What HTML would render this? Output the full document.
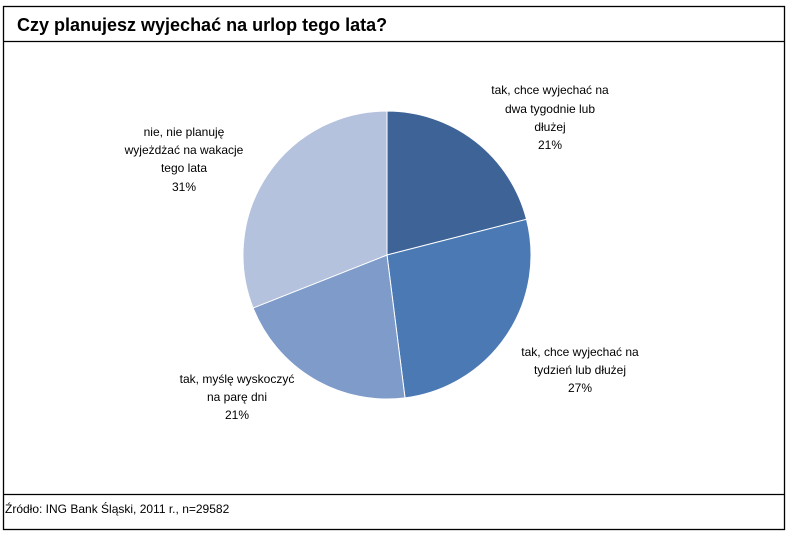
<!DOCTYPE html>
<html><head><meta charset="utf-8"><style>
body{margin:0;width:794px;height:536px;background:#fff;overflow:hidden;font-family:"Liberation Sans",sans-serif}
</style></head><body>
<svg width="794" height="536" xmlns="http://www.w3.org/2000/svg">
<rect x="3.5" y="6.5" width="781" height="523" fill="#fff" stroke="#000" stroke-width="1.3"/>
<line x1="3" y1="41.5" x2="785" y2="41.5" stroke="#000" stroke-width="1.3"/>
<line x1="3" y1="494.5" x2="785" y2="494.5" stroke="#000" stroke-width="1.3"/>
<text x="17" y="31" font-size="18" font-weight="bold" fill="#000">Czy planujesz wyjechać na urlop tego lata?</text>
<text x="5" y="513" font-size="12" fill="#000">Źródło: ING Bank Śląski, 2011 r., n=29582</text>
<g stroke="#fff" stroke-width="1">
<path d="M387,255 L387,111 A144,144 0 0 1 526.5,219.3 Z" fill="#3E6497"/>
<path d="M387,255 L526.5,219.3 A144,144 0 0 1 405.0,397.9 Z" fill="#4A79B4"/>
<path d="M387,255 L405.0,397.9 A144,144 0 0 1 253.1,308.0 Z" fill="#7E9BC9"/>
<path d="M387,255 L253.1,308.0 A144,144 0 0 1 387,111 Z" fill="#B4C2DE"/>
</g>
<g font-size="12" fill="#000" text-anchor="middle">
<text x="550" y="94">tak, chce wyjechać na</text>
<text x="550" y="113">dwa tygodnie lub</text>
<text x="550" y="131">dłużej</text>
<text x="550" y="149">21%</text>
<text x="580" y="356">tak, chce wyjechać na</text>
<text x="580" y="374">tydzień lub dłużej</text>
<text x="580" y="392">27%</text>
<text x="237" y="383">tak, myślę wyskoczyć</text>
<text x="237" y="401">na parę dni</text>
<text x="237" y="419">21%</text>
<text x="184" y="136">nie, nie planuję</text>
<text x="184" y="154">wyjeżdżać na wakacje</text>
<text x="184" y="172">tego lata</text>
<text x="184" y="191">31%</text>
</g>
</svg>
</body></html>
